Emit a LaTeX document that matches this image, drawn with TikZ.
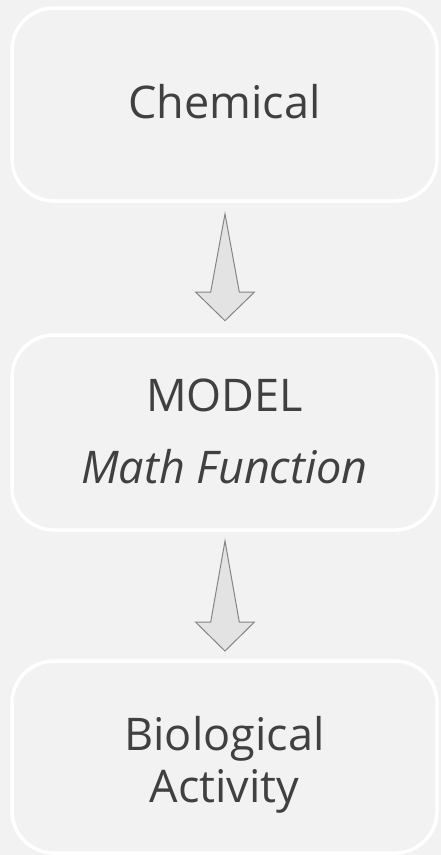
\documentclass[tikz,border=0pt]{standalone}
\usepackage{fontspec}
\setmainfont{Open Sans}
\definecolor{bg}{HTML}{F2F2F2}
\definecolor{txt}{HTML}{404040}
\definecolor{arrfill}{HTML}{E3E3E3}
\definecolor{arrline}{HTML}{858585}
\tikzset{
  box/.style={draw=white, line width=3.5pt, fill=bg, rounded corners=42pt,
    minimum width=425pt, inner sep=0pt, text=txt, align=center},
  lbl/.style={text=txt, font=\fontsize{45}{54}\selectfont, anchor=base, inner sep=0pt},
  blockarrow/.style={draw=arrline, fill=arrfill, line width=1pt, line join=miter},
}
\begin{document}
\begin{tikzpicture}[x=1pt,y=-1pt]
\fill[bg] (0,0) rectangle (441,855);
\useasboundingbox (0,0) rectangle (441,855);
\node[box, minimum height=193pt] (chem) at (224.5,104.5) {};
\node[box, minimum height=195pt] (model) at (224.5,432.5) {};
\node[box, minimum height=192pt] (bio) at (224.5,757) {};
\node[lbl] (t1) at (224.5,118) {Chemical};
\node[lbl] (t2) at (224.5,411) {MODEL};
\node[lbl, font=\fontsize{45}{54}\selectfont\itshape] (t3) at (224.5,483) {Math Function};
\node[lbl] (t4) at (224.5,750) {Biological};
\node[lbl] (t5) at (224.5,802) {Activity};
% arrows
\coordinate (a1) at (225,214);
\draw[blockarrow] (a1) -- (239.3,292) -- (254.5,292) -- (225,320.7) -- (195.5,292) -- (210.7,292) -- cycle;
\coordinate (a2) at (225,541);
\draw[blockarrow] (a2) -- (239.3,622) -- (254.5,622) -- (225,651) -- (195.5,622) -- (210.7,622) -- cycle;
\end{tikzpicture}
\end{document}
